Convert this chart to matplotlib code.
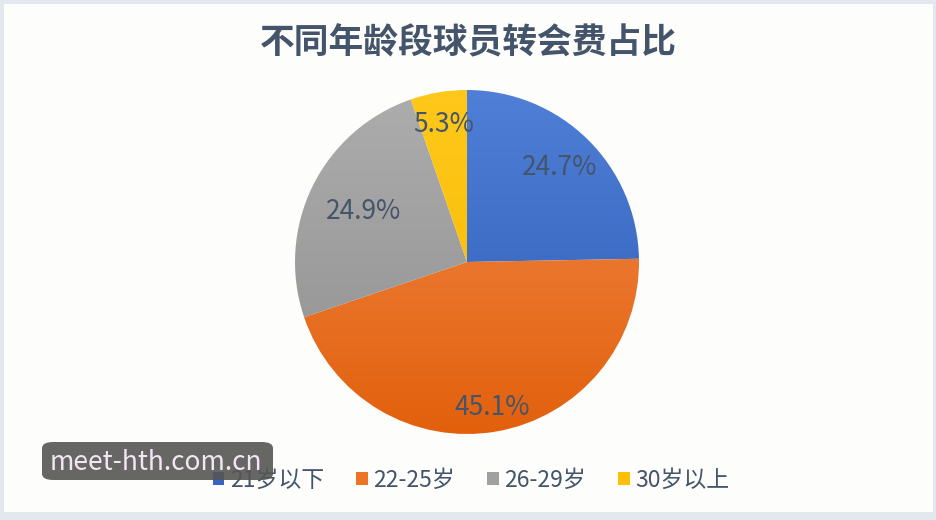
import matplotlib.pyplot as plt
import numpy as np
from matplotlib.colors import LinearSegmentedColormap
from matplotlib.patches import Patch, FancyBboxPatch, Rectangle

plt.rcParams['font.family'] = ['Noto Sans CJK SC', 'DejaVu Sans']

# 数据
categories = ['21岁以下', '22-25岁', '26-29岁', '30岁以上']
shares = [24.7, 45.1, 24.9, 5.3]
title = '不同年龄段球员转会费占比'
watermark = 'meet-hth.com.cn'

# 渐变色 (上浅 -> 下深)
grad_colors = [('#4f7fd6', '#2c5bb5'),
               ('#f28c4e', '#e2600c'),
               ('#adadad', '#8f8f8f'),
               ('#ffc81a', '#f5b800')]
legend_colors = ['#3764c0', '#ee7425', '#a0a0a0', '#fcc000']
label_r = [0.77, 0.86, 0.67, 0.81]
text_col = '#44546a'

W, H = 937, 520
fig = plt.figure(figsize=(W / 100, H / 100), dpi=100)
fig.patch.set_facecolor('#e2e8ee')
fig.patches.append(Rectangle((4 / W, 8 / H), (W - 8) / W, (H - 12) / H,
                             transform=fig.transFigure, facecolor='#fdfdfb',
                             edgecolor='none', zorder=-5))

# 饼图坐标轴
cx, cy, r = 467, H - 262, 172
ax = fig.add_axes([(cx - r) / W, (cy - r) / H, 2 * r / W, 2 * r / H])
ax.set_zorder(2)
ax.patch.set_alpha(0)

wedges, texts, autotexts = ax.pie(shares, startangle=90, counterclock=False,
                                  radius=1, autopct='%.1f%%', pctdistance=0.8,
                                  wedgeprops=dict(linewidth=0),
                                  textprops=dict(color=text_col, fontsize=19))

for w, (c1, c2) in zip(wedges, grad_colors):
    w.set_facecolor('none')
    cmap = LinearSegmentedColormap.from_list('g', [c2, c1])
    grad = np.linspace(0, 1, 256).reshape(-1, 1)
    im = ax.imshow(grad, cmap=cmap, extent=[-1, 1, -1, 1], origin='lower',
                   aspect='auto', zorder=1)
    im.set_clip_path(w)

for t, rr in zip(autotexts, label_r):
    x, y = t.get_position()
    k = rr / 0.8
    t.set_position((x * k, y * k))
    t.set_zorder(5)

ax.set_xlim(-1, 1)
ax.set_ylim(-1, 1)
ax.axis('off')

# 标题
fig.text(0.5, 1 - 43 / H, title, ha='center', va='center', fontsize=25,
         fontweight='bold', color=text_col)

# 图例
handles = [Patch(facecolor=c, edgecolor='none') for c in legend_colors]
fig.legend(handles, categories, loc='center', bbox_to_anchor=(0.503, 1 - 480 / H),
           ncol=4, frameon=False, fontsize=16.5, handlelength=0.5, handleheight=0.5,
           handletextpad=0.25, columnspacing=1.4, labelcolor=text_col)

# 水印
fig.patches.append(FancyBboxPatch((42 / W, 40 / H), 231 / W, 38 / H,
                                  boxstyle='round,pad=0,rounding_size=0.012',
                                  transform=fig.transFigure, facecolor='#555555',
                                  alpha=0.9, edgecolor='none', zorder=10))
fig.text(50 / W, 57 / H, watermark, ha='left', va='center', fontsize=19,
         color='#f3e6f3', zorder=11)

fig.savefig('out.png', dpi=100, facecolor=fig.get_facecolor())
